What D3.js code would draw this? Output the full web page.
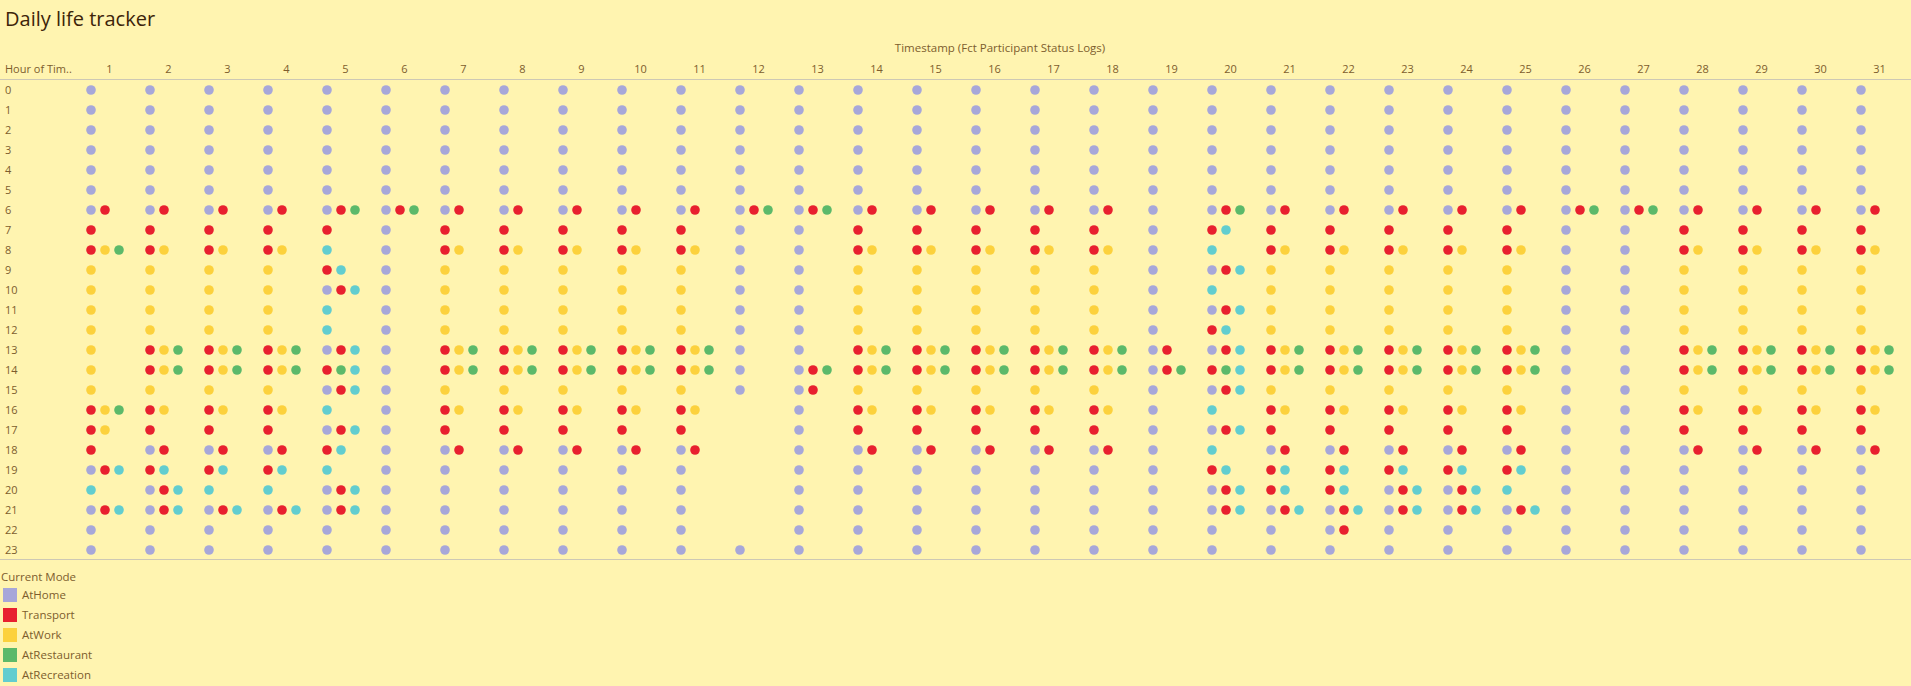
<!DOCTYPE html>
<html>
<head>
<meta charset="utf-8">
<script src="https://cdn.jsdelivr.net/npm/d3@7"></script>
<style>
  body { margin: 0; background: #fff4b0; font-family: "Open Sans", Lato, sans-serif; }
  .axis text { fill: #7d5d2d; font-size: 11px; font-family: "Open Sans", sans-serif; }
  .axis path, .axis line { display: none; }
</style>
</head>
<body>
<script>
// legend order is also the order dots are packed inside a cell
var modes = ["AtHome", "Transport", "AtWork", "AtRestaurant", "AtRecreation"],
    codes = ["h", "t", "w", "r", "c"],
    colors = ["#a7a7d9", "#e8202f", "#fcd13d", "#5cb96a", "#62cdcf"];

var days = d3.range(1, 32),
    hours = d3.range(0, 24);

// one string per day, 24 tokens for hours 0..23 ("-" = no record)
var statusByDay = [
  "h h h h h h ht t twr w w w w w w w twr tw t htc c htc h h",
  "h h h h h h ht t tw w w w w twr twr w tw t ht tc htc htc h h",
  "h h h h h h ht t tw w w w w twr twr w tw t ht tc c htc h h",
  "h h h h h h ht t tw w w w w twr twr w tw t ht tc c htc h h",
  "h h h h h h htr t c tc htc c c htc trc htc c htc tc c htc htc h h",
  "h h h h h h htr h h h h h h h h h h h h h h h h h",
  "h h h h h h ht t tw w w w w twr twr w tw t ht h h h h h",
  "h h h h h h ht t tw w w w w twr twr w tw t ht h h h h h",
  "h h h h h h ht t tw w w w w twr twr w tw t ht h h h h h",
  "h h h h h h ht t tw w w w w twr twr w tw t ht h h h h h",
  "h h h h h h ht t tw w w w w twr twr w tw t ht h h h h h",
  "h h h h h h htr h h h h h h h h h - - - - - - - h",
  "h h h h h h htr h h h h h h h htr ht h h h h h h h h",
  "h h h h h h ht t tw w w w w twr twr w tw t ht h h h h h",
  "h h h h h h ht t tw w w w w twr twr w tw t ht h h h h h",
  "h h h h h h ht t tw w w w w twr twr w tw t ht h h h h h",
  "h h h h h h ht t tw w w w w twr twr w tw t ht h h h h h",
  "h h h h h h ht t tw w w w w twr twr w tw t ht h h h h h",
  "h h h h h h h h h h h h h ht htr h h h h h h h h h",
  "h h h h h h htr tc c htc c htc tc htc trc htc c htc c tc htc htc h h",
  "h h h h h h ht t tw w w w w twr twr w tw t ht tc tc htc h h",
  "h h h h h h ht t tw w w w w twr twr w tw t ht tc tc htc ht h",
  "h h h h h h ht t tw w w w w twr twr w tw t ht tc htc htc h h",
  "h h h h h h ht t tw w w w w twr twr w tw t ht tc htc htc h h",
  "h h h h h h ht t tw w w w w twr twr w tw t ht tc c htc h h",
  "h h h h h h htr h h h h h h h h h h h h h h h h h",
  "h h h h h h htr h h h h h h h h h h h h h h h h h",
  "h h h h h h ht t tw w w w w twr twr w tw t ht h h h h h",
  "h h h h h h ht t tw w w w w twr twr w tw t ht h h h h h",
  "h h h h h h ht t tw w w w w twr twr w tw t ht h h h h h",
  "h h h h h h ht t tw w w w w twr twr w tw t ht h h h h h"
];

var width = 1911,
    height = 686;

var x = d3.scaleBand()
        .domain(days)
        .range([80, 1909]);

var y = d3.scaleBand()
        .domain(hours)
        .range([80, 560]);

// position of a dot inside its cell
var slot = d3.scaleLinear()
        .domain([0, 1])
        .range([11, 25]);

var color = d3.scaleOrdinal()
        .domain(codes)
        .range(colors);

// flatten into one record per dot
var dots = [];
statusByDay.forEach(function(s, di) {
  s.split(" ").forEach(function(tok, h) {
    if (tok === "-") return;
    tok.split("").forEach(function(c, k) {
      dots.push({ day: days[di], hour: h, code: c, k: k });
    });
  });
});

var svg = d3.select("body")
        .append("svg")
         .attr("width", width)
         .attr("height", height);

svg.append("text")
    .attr("x", 5)
    .attr("y", 26)
    .attr("fill", "#3d2409")
    .style("font-size", "20px")
    .text("Daily life tracker");

svg.append("text")
    .attr("x", 1000)
    .attr("y", 52)
    .attr("text-anchor", "middle")
    .attr("fill", "#7d5d2d")
    .style("font-size", "11.5px")
    .text("Timestamp (Fct Participant Status Logs)");

svg.append("text")
    .attr("x", 5)
    .attr("y", 73)
    .attr("fill", "#7d5d2d")
    .style("font-size", "11px")
    .text("Hour of Tim..");

svg.append("g")
    .attr("class", "x axis")
    .attr("transform", "translate(0,73)")
    .call(d3.axisTop(x).tickSize(0).tickPadding(0));

svg.append("g")
    .attr("class", "y axis")
    .attr("transform", "translate(0,0)")
    .call(d3.axisRight(y).tickSize(0).tickPadding(5));

// header and footer rules
svg.selectAll("line.rule")
    .data([y.range()[0] - 1, y.range()[1] - 1])
    .enter()
    .append("line")
     .attr("class", "rule")
     .attr("x1", 0)
     .attr("x2", width)
     .attr("y1", function(d) { return d + 0.5; })
     .attr("y2", function(d) { return d + 0.5; })
     .attr("stroke", "#cdc8b4")
     .attr("stroke-width", 1);

svg.selectAll("circle")
    .data(dots)
    .enter()
    .append("circle")
     .attr("r", 4.8)
     .attr("cx", function(d) { return x(d.day) + slot(d.k); })
     .attr("cy", function(d) { return y(d.hour) + y.bandwidth() / 2; })
     .attr("fill", function(d) { return color(d.code); });

// legend
var legend = svg.append("g")
        .attr("transform", "translate(0,570)");

legend.append("text")
    .attr("x", 1)
    .attr("y", 11)
    .attr("fill", "#7d5d2d")
    .style("font-size", "11.5px")
    .text("Current Mode");

var item = legend.selectAll("g.item")
        .data(modes)
        .enter()
        .append("g")
         .attr("class", "item")
         .attr("transform", function(d, i) { return "translate(3," + (18 + i * 20) + ")"; });

item.append("rect")
    .attr("width", 14)
    .attr("height", 14)
    .attr("fill", function(d, i) { return colors[i]; });

item.append("text")
    .attr("x", 19)
    .attr("y", 11)
    .attr("fill", "#7d5d2d")
    .style("font-size", "11.5px")
    .text(function(d) { return d; });
</script>
</body>
</html>
